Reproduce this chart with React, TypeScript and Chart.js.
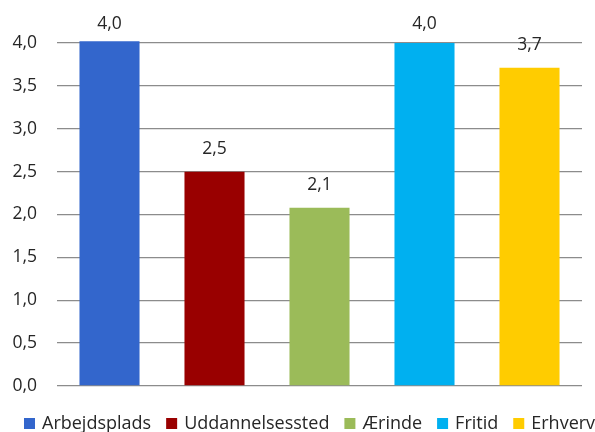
import React, { useEffect, useRef } from "react";
import { Chart, registerables } from "chart.js";

Chart.register(...registerables);

const categories = ["Arbejdsplads", "Uddannelsessted", "Ærinde", "Fritid", "Erhverv"];
const values = [4.02, 2.5, 2.08, 4.0, 3.71];
const colors = ["#3366CC", "#990000", "#9BBB59", "#00B0F0", "#FFCC00"];
const yTicks = [0, 0.5, 1.0, 1.5, 2.0, 2.5, 3.0, 3.5, 4.0];

const FONT = "'Open Sans', sans-serif";
const FS = 17.5;
const fmt = (v: number) => v.toFixed(1).replace(".", ",");

const labelPlugin = {
  id: "barLabels",
  afterDatasetsDraw(chart: any) {
    const ctx = chart.ctx;
    ctx.save();
    ctx.font = `${FS}px ${FONT}`;
    ctx.fillStyle = "#262626";
    ctx.textAlign = "center";
    ctx.textBaseline = "middle";
    chart.data.datasets.forEach((ds: any, i: number) => {
      const meta = chart.getDatasetMeta(i);
      meta.data.forEach((el: any, j: number) => {
        const v = ds.data[j];
        if (v === null || v === undefined) return;
        const y = Math.max(el.y - 23, 24);
        ctx.fillText(fmt(v), el.x, y);
      });
    });
    ctx.restore();
  },
};

const legendPlugin = {
  id: "customLegend",
  afterDraw(chart: any) {
    const ctx = chart.ctx;
    ctx.save();
    ctx.font = `${FS + 0.5}px ${FONT}`;
    ctx.textBaseline = "alphabetic";
    ctx.textAlign = "left";
    let x = 24;
    const boxTop = 418;
    const base = 429;
    chart.data.datasets.forEach((ds: any) => {
      ctx.fillStyle = ds.backgroundColor;
      ctx.fillRect(x, boxTop, 11, 11);
      x += 11 + 7;
      ctx.fillStyle = "#262626";
      ctx.fillText(ds.label, x, base);
      x += ctx.measureText(ds.label).width + 15;
    });
    ctx.restore();
  },
};

export default function App() {
  const ref = useRef<HTMLCanvasElement>(null);
  useEffect(() => {
    if (!ref.current) return;
    const datasets = categories.map((name, i) => ({
      label: name,
      data: categories.map((_, j) => (j === i ? values[i] : null)),
      backgroundColor: colors[i],
      borderWidth: 0,
      categoryPercentage: 1,
      barPercentage: 0.572,
      clip: false as any,
    }));
    const chart = new Chart(ref.current, {
      type: "bar",
      data: { labels: categories, datasets },
      options: {
        animation: false,
        responsive: false,
        maintainAspectRatio: false,
        devicePixelRatio: 1,
        skipNull: true,
        layout: { padding: { top: 43, right: 13, left: 0, bottom: 46 } },
        scales: {
          x: { display: false },
          y: {
            min: 0,
            max: 4,
            afterFit: (s: any) => {
              s.width = 57;
            },
            afterBuildTicks: (s: any) => {
              s.ticks = yTicks.map((v) => ({ value: v }));
            },
            ticks: {
              padding: 20,
              color: "#262626",
              font: { family: FONT, size: FS },
              callback: (v: any) => fmt(Number(v)),
            },
            grid: { color: "#8C8C8C", lineWidth: 1.3, drawTicks: false },
            border: { display: false },
          },
        },
        plugins: {
          tooltip: { enabled: false },
          legend: { display: false },
        },
      } as any,
      plugins: [labelPlugin, legendPlugin],
    });
    return () => chart.destroy();
  }, []);
  return (
    <div style={{ position: "absolute", left: 0, top: 0, width: 595, height: 432, background: "#fff" }}>
      <canvas ref={ref} width={595} height={432} style={{ width: 595, height: 432 }} />
    </div>
  );
}
